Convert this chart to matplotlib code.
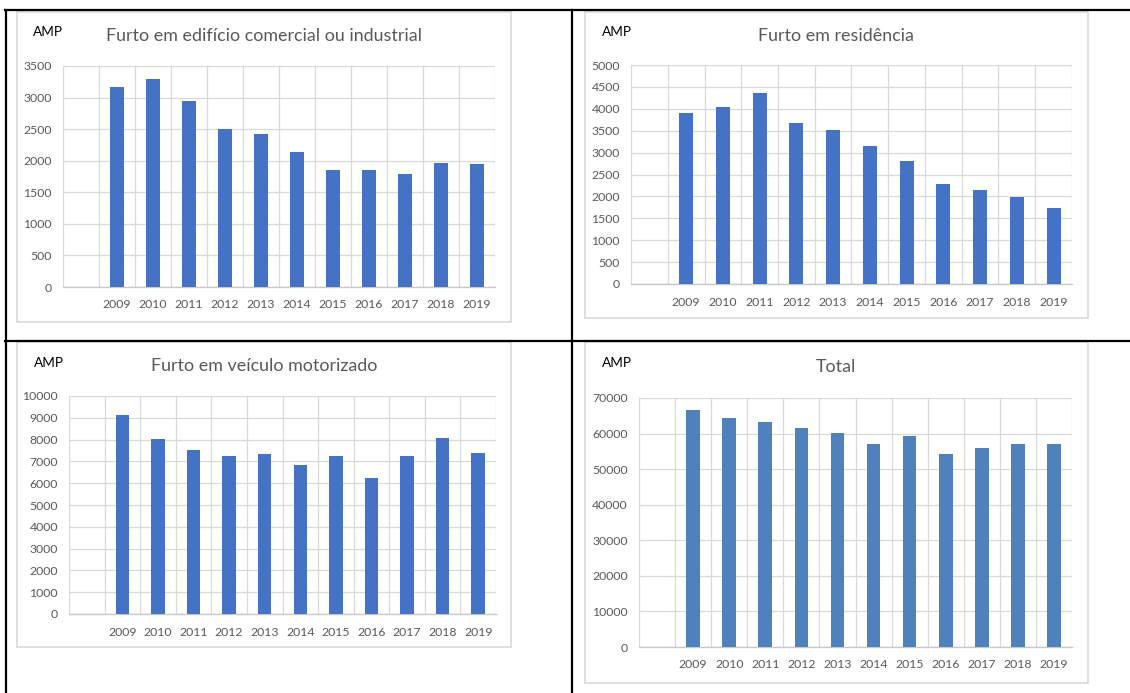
import matplotlib.pyplot as plt
import numpy as np
from matplotlib.patches import Rectangle
from matplotlib.lines import Line2D

# dados
anos = ['2009', '2010', '2011', '2012', '2013', '2014', '2015', '2016', '2017', '2018', '2019']
furto_comercial = [3170, 3290, 2950, 2500, 2430, 2145, 1850, 1860, 1785, 1960, 1945]
furto_residencia = [3900, 4040, 4360, 3680, 3505, 3150, 2805, 2280, 2145, 1985, 1725]
furto_veiculo = [9110, 8010, 7520, 7250, 7320, 6820, 7250, 6220, 7250, 8090, 7400]
total = [66540, 64390, 63170, 61670, 60080, 56990, 59240, 54280, 55960, 56990, 57180]

W, H = 1130, 693
plt.rcParams['font.family'] = ['Lato', 'DejaVu Sans']

fig = plt.figure(figsize=(W / 100, H / 100), dpi=100)
fig.patch.set_facecolor('white')


def px_rect(x0, y0, x1, y1):
    # caixa em pixels (origem no topo) -> fração da figura
    return [x0 / W, 1 - y1 / H, (x1 - x0) / W, (y1 - y0) / H]


def grafico(plot_box, frame_box, titulo, valores, ymax, passo, cor,
            amp_xy, titulo_xy):
    # moldura cinza clara do gráfico
    fx0, fy0, fx1, fy1 = frame_box
    fig.patches.append(Rectangle((fx0 / W, 1 - fy1 / H), (fx1 - fx0) / W,
                                 (fy1 - fy0) / H, transform=fig.transFigure,
                                 fill=False, edgecolor='#D9D9D9', lw=1.2))

    ax = fig.add_axes(px_rect(*plot_box))
    x = np.arange(1, len(valores) + 1)
    ax.bar(x, valores, width=0.38, color=cor, zorder=3)
    ax.set_xlim(-0.5, len(valores) + 0.5)
    ax.set_ylim(0, ymax)

    ax.set_yticks(np.arange(0, ymax + 1, passo))
    ax.set_xticks(np.arange(0, len(valores) + 1))
    ax.set_xticklabels([''] + anos)
    ax.set_xticks(np.arange(-0.5, len(valores) + 1), minor=True)
    ax.grid(axis='y', color='#D9D9D9', lw=0.9, zorder=0)
    ax.grid(axis='x', which='minor', color='#D9D9D9', lw=0.9, zorder=0)
    ax.tick_params(axis='both', which='both', length=0, labelsize=8.8,
                   labelcolor='#595959')
    ax.tick_params(axis='y', pad=8)
    ax.tick_params(axis='x', pad=9)
    for s in ['top', 'right', 'left']:
        ax.spines[s].set_visible(False)
    ax.spines['bottom'].set_color('#C8C8C8')
    ax.spines['bottom'].set_linewidth(1.0)

    fig.text(amp_xy[0] / W, 1 - amp_xy[1] / H, 'AMP', fontsize=9.8,
             color='black', va='center', ha='left')
    fig.text(titulo_xy[0] / W, 1 - titulo_xy[1] / H, titulo, fontsize=12.9,
             color='#595959', va='center', ha='center')
    return ax


azul = '#4472C4'
grafico((63, 66, 495, 287), (17, 12, 511, 322),
        'Furto em edifício comercial ou industrial', furto_comercial,
        3500, 500, azul, (33, 32), (264, 36))
grafico((631, 65, 1072, 284), (585, 12, 1088, 318),
        'Furto em residência', furto_residencia,
        5000, 500, azul, (602, 32), (836, 36))
grafico((69, 396, 496, 614), (17, 342, 511, 647),
        'Furto em veículo motorizado', furto_veiculo,
        10000, 1000, azul, (34, 363), (264, 366))
grafico((639, 398, 1072, 647), (585, 342, 1088, 683),
        'Total', total,
        70000, 10000, '#4F81BD', (602, 363), (836, 367))

# linhas pretas da tabela
for (x0, y0, x1, y1) in [(5, 10, 1130, 10), (6, 10, 6, 693),
                         (572, 10, 572, 693), (5, 341, 1130, 341)]:
    fig.lines.append(Line2D([x0 / W, x1 / W], [1 - y0 / H, 1 - y1 / H],
                            transform=fig.transFigure, color='black', lw=1.6))

fig.savefig('out.png', dpi=100)
